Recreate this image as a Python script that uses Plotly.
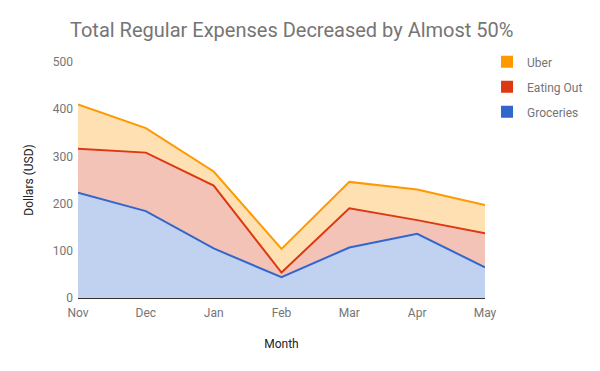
import plotly.graph_objects as go

months = ["Nov", "Dec", "Jan", "Feb", "Mar", "Apr", "May"]
groceries = [223, 184, 105, 44, 107, 136, 65]
eating_out = [93, 124, 133, 10, 83, 29, 72]
uber = [94, 52, 30, 50, 56, 65, 60]

series = [
    ("Groceries", groceries, "#3366CC", "rgba(51,102,204,0.3)"),
    ("Eating Out", eating_out, "#DC3912", "rgba(220,57,18,0.3)"),
    ("Uber", uber, "#FF9900", "rgba(255,153,0,0.3)"),
]

fig = go.Figure()
for name, vals, col, fcol in series:
    fig.add_trace(go.Scatter(
        x=months, y=vals, name=name, mode="lines",
        stackgroup="one", line=dict(color=col, width=2),
        fillcolor=fcol, showlegend=False, hoverinfo="x+y+name"))
for name, vals, col, fcol in reversed(series):
    fig.add_trace(go.Scatter(
        x=[None], y=[None], name=name, mode="markers", legendgroup=name,
        marker=dict(symbol="square", size=13, color=col),
        showlegend=True))

W, H = 592, 363
fig.update_layout(
    width=W, height=H,
    margin=dict(l=70, r=115, t=54, b=73, autoexpand=False),
    paper_bgcolor="white", plot_bgcolor="white",
    font=dict(family="Roboto", color="#757575", size=12),
    title=dict(text="Total Regular Expenses Decreased by Almost 50%",
               x=62/W, xanchor="left", y=1 - 22/H, yanchor="middle",
               font=dict(family="Roboto", size=20, color="#757575")),
    xaxis=dict(showgrid=False, zeroline=False, showline=False, automargin=False,
               range=[0, 6], ticks="", tickfont=dict(size=12, color="#757575"),
               ticklabelstandoff=6,
               title=dict(text="Month", font=dict(size=12, color="#222222"), standoff=20)),
    yaxis=dict(showgrid=False, zeroline=True, zerolinecolor="#333333", zerolinewidth=1,
               range=[0, 500], dtick=100, ticks="", showline=False, automargin=False,
               tickfont=dict(size=12, color="#757575"), ticklabelstandoff=4,
               title=dict(text="Dollars (USD)", font=dict(size=12, color="#222222"), standoff=16)),
    legend=dict(x=1.005, y=1.062, xanchor="left", yanchor="top",
                traceorder="grouped", font=dict(size=12, color="#757575"),
                itemsizing="constant", tracegroupgap=6, bgcolor="rgba(0,0,0,0)"),
    hovermode="x",
)
fig.write_html("out.html")
